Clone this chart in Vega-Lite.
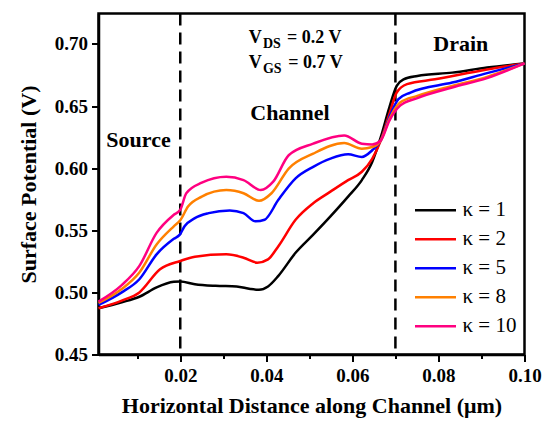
{
  "$schema": "https://vega.github.io/schema/vega-lite/v6.json",
  "width": 426,
  "height": 341,
  "autosize": {"type": "none"},
  "padding": {"left": 98.5, "top": 13.5, "right": 21.5, "bottom": 66.5},
  "background": "white",
  "config": {
    "view": {"stroke": "black", "strokeWidth": 2.5},
    "font": "Liberation Serif",
    "axis": {
      "domainColor": "black", "domainWidth": 2.5,
      "tickColor": "black", "tickWidth": 2,
      "labelFont": "Liberation Serif", "labelFontWeight": "bold", "labelFontSize": 19, "labelColor": "black",
      "titleFont": "Liberation Serif", "titleFontWeight": "bold", "titleFontSize": 22, "titleColor": "black",
      "grid": false
    }
  },
  "datasets": {
    "curves": [
      {"series": "κ = 1", "x": 0.001, "y": 0.4872}, {"series": "κ = 1", "x": 0.0064, "y": 0.492}, {"series": "κ = 1", "x": 0.0105, "y": 0.4965}, {"series": "κ = 1", "x": 0.0145, "y": 0.504}, {"series": "κ = 1", "x": 0.0185, "y": 0.5085}, {"series": "κ = 1", "x": 0.02, "y": 0.5088}, {"series": "κ = 1", "x": 0.0234, "y": 0.5066}, {"series": "κ = 1", "x": 0.0282, "y": 0.5053}, {"series": "κ = 1", "x": 0.0331, "y": 0.5048}, {"series": "κ = 1", "x": 0.0363, "y": 0.5027}, {"series": "κ = 1", "x": 0.0383, "y": 0.5021}, {"series": "κ = 1", "x": 0.0404, "y": 0.5048}, {"series": "κ = 1", "x": 0.0428, "y": 0.5133}, {"series": "κ = 1", "x": 0.0468, "y": 0.5319}, {"series": "κ = 1", "x": 0.0509, "y": 0.5465}, {"series": "κ = 1", "x": 0.0549, "y": 0.5612}, {"series": "κ = 1", "x": 0.059, "y": 0.5771}, {"series": "κ = 1", "x": 0.0622, "y": 0.5904}, {"series": "κ = 1", "x": 0.0646, "y": 0.605}, {"series": "κ = 1", "x": 0.0666, "y": 0.625}, {"series": "κ = 1", "x": 0.0686, "y": 0.649}, {"series": "κ = 1", "x": 0.0703, "y": 0.6662}, {"series": "κ = 1", "x": 0.0719, "y": 0.6715}, {"series": "κ = 1", "x": 0.0751, "y": 0.6742}, {"series": "κ = 1", "x": 0.0832, "y": 0.6769}, {"series": "κ = 1", "x": 0.0913, "y": 0.681}, {"series": "κ = 1", "x": 0.1, "y": 0.6843},
      {"series": "κ = 2", "x": 0.001, "y": 0.4872}, {"series": "κ = 2", "x": 0.0064, "y": 0.4934}, {"series": "κ = 2", "x": 0.0105, "y": 0.5}, {"series": "κ = 2", "x": 0.0153, "y": 0.5186}, {"series": "κ = 2", "x": 0.02, "y": 0.5253}, {"series": "κ = 2", "x": 0.0234, "y": 0.5287}, {"series": "κ = 2", "x": 0.0307, "y": 0.5306}, {"series": "κ = 2", "x": 0.0347, "y": 0.5279}, {"series": "κ = 2", "x": 0.0379, "y": 0.5239}, {"series": "κ = 2", "x": 0.0404, "y": 0.5266}, {"series": "κ = 2", "x": 0.0428, "y": 0.5372}, {"series": "κ = 2", "x": 0.0468, "y": 0.5585}, {"series": "κ = 2", "x": 0.0509, "y": 0.5718}, {"series": "κ = 2", "x": 0.0549, "y": 0.5811}, {"series": "κ = 2", "x": 0.059, "y": 0.5904}, {"series": "κ = 2", "x": 0.0622, "y": 0.5971}, {"series": "κ = 2", "x": 0.0646, "y": 0.6075}, {"series": "κ = 2", "x": 0.0666, "y": 0.6223}, {"series": "κ = 2", "x": 0.0686, "y": 0.6436}, {"series": "κ = 2", "x": 0.0703, "y": 0.6609}, {"series": "κ = 2", "x": 0.0727, "y": 0.6676}, {"series": "κ = 2", "x": 0.0792, "y": 0.6715}, {"series": "κ = 2", "x": 0.0913, "y": 0.6795}, {"series": "κ = 2", "x": 0.1, "y": 0.6843},
      {"series": "κ = 5", "x": 0.001, "y": 0.4899}, {"series": "κ = 5", "x": 0.0064, "y": 0.5}, {"series": "κ = 5", "x": 0.0105, "y": 0.5106}, {"series": "κ = 5", "x": 0.0145, "y": 0.5306}, {"series": "κ = 5", "x": 0.0185, "y": 0.5431}, {"series": "κ = 5", "x": 0.0199, "y": 0.5465}, {"series": "κ = 5", "x": 0.021, "y": 0.5532}, {"series": "κ = 5", "x": 0.0234, "y": 0.5598}, {"series": "κ = 5", "x": 0.0266, "y": 0.5638}, {"series": "κ = 5", "x": 0.0315, "y": 0.566}, {"series": "κ = 5", "x": 0.0347, "y": 0.5638}, {"series": "κ = 5", "x": 0.0375, "y": 0.5572}, {"series": "κ = 5", "x": 0.0396, "y": 0.5585}, {"series": "κ = 5", "x": 0.0428, "y": 0.5745}, {"series": "κ = 5", "x": 0.0468, "y": 0.5918}, {"series": "κ = 5", "x": 0.0509, "y": 0.6011}, {"series": "κ = 5", "x": 0.0549, "y": 0.6077}, {"series": "κ = 5", "x": 0.059, "y": 0.6112}, {"series": "κ = 5", "x": 0.0622, "y": 0.609}, {"series": "κ = 5", "x": 0.0646, "y": 0.6144}, {"series": "κ = 5", "x": 0.0666, "y": 0.6223}, {"series": "κ = 5", "x": 0.0686, "y": 0.641}, {"series": "κ = 5", "x": 0.0707, "y": 0.6556}, {"series": "κ = 5", "x": 0.0735, "y": 0.6609}, {"series": "κ = 5", "x": 0.0832, "y": 0.6689}, {"series": "κ = 5", "x": 0.0913, "y": 0.6765}, {"series": "κ = 5", "x": 0.1, "y": 0.6843},
      {"series": "κ = 8", "x": 0.001, "y": 0.4915}, {"series": "κ = 8", "x": 0.0064, "y": 0.5027}, {"series": "κ = 8", "x": 0.0105, "y": 0.516}, {"series": "κ = 8", "x": 0.0145, "y": 0.5386}, {"series": "κ = 8", "x": 0.0185, "y": 0.5532}, {"series": "κ = 8", "x": 0.02, "y": 0.558}, {"series": "κ = 8", "x": 0.0218, "y": 0.5691}, {"series": "κ = 8", "x": 0.025, "y": 0.5771}, {"series": "κ = 8", "x": 0.0307, "y": 0.5824}, {"series": "κ = 8", "x": 0.0347, "y": 0.5798}, {"series": "κ = 8", "x": 0.0383, "y": 0.5737}, {"series": "κ = 8", "x": 0.0412, "y": 0.5798}, {"series": "κ = 8", "x": 0.0452, "y": 0.5997}, {"series": "κ = 8", "x": 0.0509, "y": 0.6117}, {"series": "κ = 8", "x": 0.0581, "y": 0.6202}, {"series": "κ = 8", "x": 0.0622, "y": 0.6157}, {"series": "κ = 8", "x": 0.0646, "y": 0.617}, {"series": "κ = 8", "x": 0.0666, "y": 0.6223}, {"series": "κ = 8", "x": 0.0686, "y": 0.6396}, {"series": "κ = 8", "x": 0.0711, "y": 0.6529}, {"series": "κ = 8", "x": 0.0751, "y": 0.6582}, {"series": "κ = 8", "x": 0.0832, "y": 0.6662}, {"series": "κ = 8", "x": 0.0913, "y": 0.6735}, {"series": "κ = 8", "x": 0.1, "y": 0.6843},
      {"series": "κ = 10", "x": 0.001, "y": 0.4926}, {"series": "κ = 10", "x": 0.0064, "y": 0.5059}, {"series": "κ = 10", "x": 0.0105, "y": 0.5213}, {"series": "κ = 10", "x": 0.0145, "y": 0.5479}, {"series": "κ = 10", "x": 0.0185, "y": 0.5625}, {"series": "κ = 10", "x": 0.02, "y": 0.5665}, {"series": "κ = 10", "x": 0.0214, "y": 0.5798}, {"series": "κ = 10", "x": 0.025, "y": 0.5883}, {"series": "κ = 10", "x": 0.0307, "y": 0.5931}, {"series": "κ = 10", "x": 0.0347, "y": 0.5904}, {"series": "κ = 10", "x": 0.0387, "y": 0.5824}, {"series": "κ = 10", "x": 0.0416, "y": 0.5891}, {"series": "κ = 10", "x": 0.0452, "y": 0.6104}, {"series": "κ = 10", "x": 0.0509, "y": 0.6197}, {"series": "κ = 10", "x": 0.0581, "y": 0.6263}, {"series": "κ = 10", "x": 0.0622, "y": 0.6197}, {"series": "κ = 10", "x": 0.0646, "y": 0.6191}, {"series": "κ = 10", "x": 0.0666, "y": 0.6223}, {"series": "κ = 10", "x": 0.0686, "y": 0.6383}, {"series": "κ = 10", "x": 0.0711, "y": 0.6503}, {"series": "κ = 10", "x": 0.0751, "y": 0.6564}, {"series": "κ = 10", "x": 0.0832, "y": 0.6649}, {"series": "κ = 10", "x": 0.0913, "y": 0.6725}, {"series": "κ = 10", "x": 0.1, "y": 0.6843}
    ],
    "dividers": [{"x": 0.02}, {"x": 0.07}],
    "regions": [
      {"label": "Source", "x": 0.0103, "y": 0.6223},
      {"label": "Channel", "x": 0.0455, "y": 0.6441},
      {"label": "Drain", "x": 0.0852, "y": 0.7}
    ],
    "eqmain": [
      {"label": "V", "x": 0.0359, "y": 0.701},
      {"label": "= 0.2 V", "x": 0.0448, "y": 0.701},
      {"label": "V", "x": 0.0359, "y": 0.681},
      {"label": "= 0.7 V", "x": 0.0451, "y": 0.681}
    ],
    "eqsub": [
      {"label": "DS", "x": 0.0392, "y": 0.697},
      {"label": "GS", "x": 0.0392, "y": 0.677}
    ]
  },
  "layer": [
    {
      "data": {"name": "dividers"},
      "mark": {"type": "rule", "strokeDash": [12, 7], "strokeWidth": 2.5, "color": "black"},
      "encoding": {
        "x": {"field": "x", "type": "quantitative"}
      }
    },
    {
      "data": {"name": "curves"},
      "mark": {"type": "line", "strokeWidth": 2.5, "interpolate": "monotone"},
      "encoding": {
        "x": {
          "field": "x", "type": "quantitative",
          "scale": {"domain": [0.001, 0.1], "nice": false, "zero": false},
          "axis": {
            "title": "Horizontal Distance along Channel (μm)",
            "values": [0.01, 0.02, 0.03, 0.04, 0.05, 0.06, 0.07, 0.08, 0.09, 0.1],
            "labelExpr": "round(datum.value*100) % 2 == 0 ? format(datum.value, '.2f') : ''",
            "tickSize": {"condition": {"test": "round(datum.value*100) % 2 == 0", "value": 7}, "value": 4},
            "labelPadding": 5,
            "labelFlush": false,
            "labelOverlap": false,
            "titlePadding": 10
          }
        },
        "y": {
          "field": "y", "type": "quantitative",
          "scale": {"domain": [0.45, 0.7245], "nice": false, "zero": false},
          "axis": {
            "title": "Surface Potential (V)",
            "values": [0.45, 0.475, 0.5, 0.525, 0.55, 0.575, 0.6, 0.625, 0.65, 0.675, 0.7],
            "labelExpr": "round(datum.value*1000) % 50 == 0 ? format(datum.value, '.2f') : ''",
            "tickSize": {"condition": {"test": "round(datum.value*1000) % 50 == 0", "value": 7}, "value": 4},
            "labelPadding": 4,
            "labelOverlap": false,
            "titlePadding": 14
          }
        },
        "color": {
          "field": "series", "type": "nominal",
          "scale": {
            "domain": ["κ = 1", "κ = 2", "κ = 5", "κ = 8", "κ = 10"],
            "range": ["#000000", "#ff0000", "#0000ff", "#ff8000", "#ff0080"]
          },
          "legend": {
            "orient": "none", "legendX": 315, "legendY": 182.5, "title": null,
            "padding": 0,
            "symbolType": "stroke", "symbolSize": 1681, "symbolStrokeWidth": 2.5,
            "labelFont": "Liberation Serif", "labelFontSize": 21, "labelColor": "black",
            "labelOffset": 5, "rowPadding": 0, "clipHeight": 28.3
          }
        }
      }
    },
    {
      "data": {"name": "regions"},
      "mark": {"type": "text", "font": "Liberation Serif", "fontWeight": "bold", "fontSize": 22, "color": "black", "align": "center", "baseline": "middle"},
      "encoding": {
        "x": {"field": "x", "type": "quantitative"},
        "y": {"field": "y", "type": "quantitative"},
        "text": {"field": "label"}
      }
    },
    {
      "data": {"name": "eqmain"},
      "mark": {"type": "text", "font": "Liberation Serif", "fontWeight": "bold", "fontSize": 18, "color": "black", "align": "left", "baseline": "alphabetic"},
      "encoding": {
        "x": {"field": "x", "type": "quantitative"},
        "y": {"field": "y", "type": "quantitative"},
        "text": {"field": "label"}
      }
    },
    {
      "data": {"name": "eqsub"},
      "mark": {"type": "text", "font": "Liberation Serif", "fontWeight": "bold", "fontSize": 14, "color": "black", "align": "left", "baseline": "alphabetic"},
      "encoding": {
        "x": {"field": "x", "type": "quantitative"},
        "y": {"field": "y", "type": "quantitative"},
        "text": {"field": "label"}
      }
    }
  ]
}
